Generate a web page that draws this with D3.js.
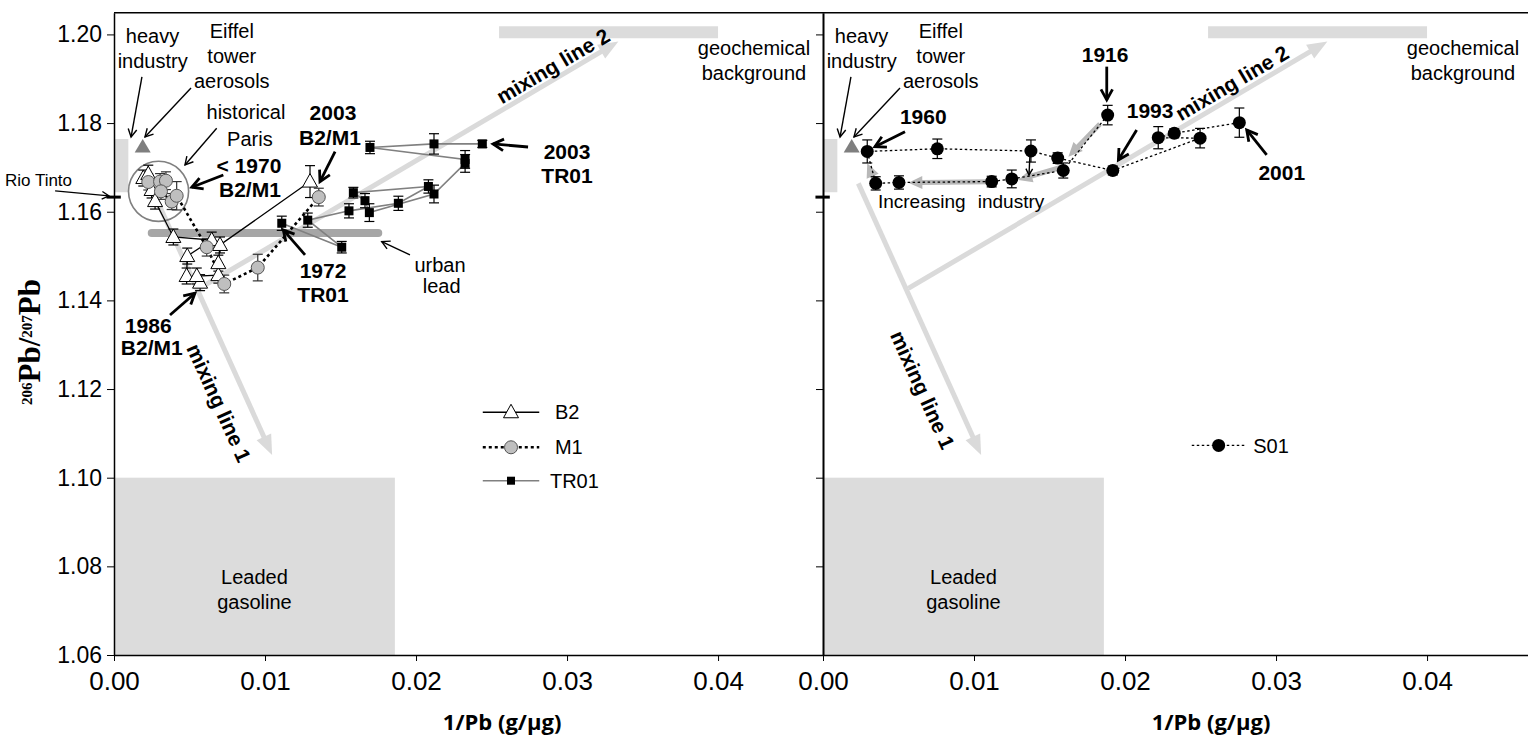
<!DOCTYPE html>
<html>
<head>
<meta charset="utf-8">
<script src="https://cdn.jsdelivr.net/npm/d3@7/dist/d3.min.js"></script>
<style>
  body { margin: 0; background: #fff; }
  svg { display: block; }
  text { font-family: "Liberation Sans", Arial, sans-serif; fill: #000; }
</style>
</head>
<body>
<div id="plot"></div>
<script>
// ---- Data (1/Pb in g/ug, 206Pb/207Pb ratio, +/- error) ----
var b2X   = [0.00194, 0.00227, 0.00249, 0.00272, 0.00393, 0.00647, 0.00485, 0.00481, 0.00570, 0.00548, 0.00691, 0.00691, 0.00702, 0.01298];
var b2Y   = [1.1676, 1.1685, 1.1649, 1.1624, 1.1543, 1.1536, 1.1500, 1.1455, 1.1440, 1.1455, 1.1457, 1.1484, 1.1525, 1.1668];
var b2Err = [0.0018, 0.0020, 0.0018, 0.0018, 0.0018, 0.0018, 0.0018, 0.0018, 0.0018, 0.0018, 0.0018, 0.0018, 0.0018, 0.0036];

var m1X   = [0.00227, 0.00305, 0.00344, 0.00311, 0.00382, 0.00415, 0.00614, 0.00730, 0.00952, 0.01356];
var m1Y   = [1.1667, 1.1668, 1.1670, 1.1646, 1.1623, 1.1636, 1.1520, 1.1437, 1.1474, 1.1633];
var m1Err = [0.0018, 0.0018, 0.0020, 0.0018, 0.0018, 0.0032, 0.0020, 0.0020, 0.0030, 0.0020];

var tr01X   = [0.01111, 0.01508, 0.01283, 0.01556, 0.01883, 0.02082, 0.01585, 0.01662, 0.01691, 0.02119, 0.02325, 0.02325, 0.01695, 0.02119, 0.02439];
var tr01Y   = [1.1574, 1.1520, 1.1581, 1.1602, 1.1619, 1.1657, 1.1643, 1.1625, 1.1598, 1.1640, 1.1709, 1.1718, 1.1745, 1.1753, 1.1753];
var tr01Err = [0.0016, 0.0013, 0.0016, 0.0016, 0.0016, 0.0015, 0.0012, 0.0016, 0.0020, 0.0020, 0.0020, 0.0020, 0.0014, 0.0023, 0.0008];

var s01X   = [0.01885, 0.01591, 0.01250, 0.01117, 0.00503, 0.00349, 0.00293, 0.00757, 0.01377, 0.01554, 0.01919, 0.02497, 0.02220, 0.02326, 0.02757];
var s01Y   = [1.1818, 1.1693, 1.1674, 1.1668, 1.1666, 1.1664, 1.1736, 1.1742, 1.1737, 1.1721, 1.1693, 1.1766, 1.1767, 1.1777, 1.1801];
var s01Err = [0.0022, 0.0017, 0.0020, 0.0012, 0.0015, 0.0015, 0.0026, 0.0022, 0.0025, 0.0012, 0.0010, 0.0022, 0.0025, 0.0010, 0.0033];

var yTicks = [1.06, 1.08, 1.10, 1.12, 1.14, 1.16, 1.18, 1.20];
var xTicks = [0.00, 0.01, 0.02, 0.03, 0.04];

// ---- Source end-members (data units) ----
var leadedBox   = [0, 0.0186, 1.06, 1.10];
var geochemBar  = [0.0255, 0.0400, 1.2005];
var rioTintoBar = [0.00007, 0.00095, 1.1644, 1.1764];
var rioTintoTick = [-0.0005, 0.00045, 1.1633];
var eiffelPoint = [0.0019, 1.1747];
var urbanLeadBar = [0.0025, 0.0175, 1.1552];
var parisCircle = [0.00295, 1.1646, 0.00199];
var mixLine1 = [0.00234, 1.1664, 0.01047, 1.1051];
var mixLine2 = [0.00565, 1.1427, 0.0334, 1.1984];

// ---- Annotations (data units) ----
var sharedLabels = [
  ["heavy", 0.00255, 1.1980], ["industry", 0.00256, 1.19244],
  ["Eiffel", 0.0078, 1.19921], ["tower", 0.0078, 1.19357], ["aerosols", 0.0078, 1.18793],
  ["geochemical", 0.04238, 1.19537], ["background", 0.04238, 1.18973],
  ["Leaded", 0.0093, 1.07602], ["gasoline", 0.0093, 1.07038]
];
var sharedArrows = [
  [0.00185, 1.19041, 0.00113, 1.17687],
  [0.0051, 1.18793, 0.00205, 1.17687]
];

var leftLabels = [
  ["historical", 0.00874, 1.18093, false], ["Paris", 0.0090, 1.17491, false],
  ["< 1970", 0.00894, 1.16868, true], ["B2/M1", 0.0090, 1.1634, true],
  ["2003", 0.0145, 1.18071, true], ["B2/M1", 0.0143, 1.17507, true],
  ["1972", 0.01384, 1.14506, true], ["TR01", 0.01384, 1.13971, true],
  ["urban", 0.02159, 1.14648, false], ["lead", 0.0217, 1.14161, false],
  ["2003", 0.0300, 1.17191, true], ["TR01", 0.0300, 1.1665, true],
  ["1986", 0.00227, 1.13262, true], ["B2/M1", 0.0025, 1.12767, true]
];
var leftThinArrows = [
  [0.0068, 1.17884, 0.0047, 1.17056],
  [0.0196, 1.15025, 0.01773, 1.15325]
];
var leftBoldArrows = [
  [0.00724, 1.1683, 0.00515, 1.16552],
  [0.01464, 1.17356, 0.01364, 1.16679],
  [0.01265, 1.15025, 0.01121, 1.15589],
  [0.02742, 1.1746, 0.0251, 1.1753],
  [0.00371, 1.13671, 0.00536, 1.14161]
];
var rioTintoLabel = ["Rio Tinto", -0.0050, 1.1658];
var rioTintoArrow = [-0.0039, 1.16469, -0.00033, 1.16356];

var rightLabels = [
  ["1960", 0.00664, 1.17981, true], ["1916", 0.01868, 1.19386, true],
  ["1993", 0.02166, 1.18109, true], ["2001", 0.03038, 1.16717, true]
];
var rightBoldArrows = [
  [0.00543, 1.17807, 0.00344, 1.17468],
  [0.01879, 1.19273, 0.01879, 1.18522],
  [0.02077, 1.17845, 0.01956, 1.17168],
  [0.02938, 1.17281, 0.02806, 1.17845]
];
var industryArrows = [
  [0.01834, 1.17981, 0.01625, 1.17243],
  [0.01591, 1.17018, 0.01293, 1.16717],
  [0.01106, 1.16679, 0.00565, 1.16656],
  [0.00344, 1.16679, 0.00293, 1.17094]
];
var industryLabels = [["Increasing", 0.00654, 1.16085], ["industry", 0.01245, 1.16085]];
var smallArrow = [0.01371, 1.17326, 0.01364, 1.1683];

var mix2Labels = [[0.02907, 1.19289], [0.02709, 1.18906]];
var mix1Labels = [[0.00695, 1.11686], [0.00659, 1.11979]];

var legendLeft = { x0: 0.02442, x1: 0.02816, xm: 0.02629, xt: 0.0292, rows: [1.11476, 1.10686, 1.09932], names: ["B2", "M1", "TR01"] };
var legendRight = { x0: 0.02442, x1: 0.02795, xm: 0.0262, xt: 0.02849, row: 1.10727, name: "S01" };

// ---- Layout ----
var W = 1528, H = 739;
var margin = {top: 12.7, left: 114};
var panelW = 709, panelH = 642.3;

var svg = d3.select("#plot").append("svg")
  .attr("width", W).attr("height", H);

var x = d3.scaleLinear().domain([0, 0.04695]).range([0, panelW]);
var y = d3.scaleLinear().domain([1.06, 1.2049]).range([panelH, 0]);

var left = svg.append("g").attr("transform", "translate(" + margin.left + "," + margin.top + ")");
var right = svg.append("g").attr("transform", "translate(" + (margin.left + panelW) + "," + margin.top + ")");

// helpers
function label(g, t, dx, dy, bold, size) {
  return g.append("text")
    .attr("x", x(dx)).attr("y", y(dy))
    .attr("text-anchor", "middle")
    .style("font-size", (size || (bold ? 21 : 20)) + "px")
    .style("font-weight", bold ? "bold" : "normal")
    .text(t);
}

function arrow(g, a, w, head) {
  var x1 = x(a[0]), y1 = y(a[1]), x2 = x(a[2]), y2 = y(a[3]);
  var ang = Math.atan2(y2 - y1, x2 - x1);
  g.append("line").attr("x1", x1).attr("y1", y1).attr("x2", x2).attr("y2", y2)
    .attr("stroke", "#000").attr("stroke-width", w);
  var p = d3.path();
  p.moveTo(x2 - head * Math.cos(ang - 0.5), y2 - head * Math.sin(ang - 0.5));
  p.lineTo(x2, y2);
  p.lineTo(x2 - head * Math.cos(ang + 0.5), y2 - head * Math.sin(ang + 0.5));
  g.append("path").attr("d", p.toString()).attr("fill", "none")
    .attr("stroke", "#000").attr("stroke-width", w);
}

function fatArrow(g, a, color, w, hl, hw) {
  var x1 = x(a[0]), y1 = y(a[1]), x2 = x(a[2]), y2 = y(a[3]);
  var len = Math.hypot(x2 - x1, y2 - y1);
  var ux = (x2 - x1) / len, uy = (y2 - y1) / len;
  var bx = x2 - ux * hl, by = y2 - uy * hl;
  g.append("line").attr("x1", x1).attr("y1", y1).attr("x2", bx + ux).attr("y2", by + uy)
    .attr("stroke", color).attr("stroke-width", w);
  var p = d3.path();
  p.moveTo(x2, y2);
  p.lineTo(bx - uy * hw / 2, by + ux * hw / 2);
  p.lineTo(bx + uy * hw / 2, by - ux * hw / 2);
  p.closePath();
  g.append("path").attr("d", p.toString()).attr("fill", color);
}

function rotLabel(g, t, pos, angle) {
  g.append("text")
    .attr("transform", "translate(" + x(pos[0]) + "," + y(pos[1]) + ") rotate(" + angle + ")")
    .attr("text-anchor", "middle").attr("dy", "0.35em")
    .style("font-size", "21px").style("font-weight", "bold")
    .text(t);
}

function errorBars(g, xs, ys, es, color) {
  var idx = d3.range(xs.length);
  var eg = g.append("g").attr("stroke", color).attr("stroke-width", 1.2);
  eg.selectAll("line.v").data(idx).enter().append("line").attr("class", "v")
    .attr("x1", function(i){ return x(xs[i]); }).attr("x2", function(i){ return x(xs[i]); })
    .attr("y1", function(i){ return y(ys[i] - es[i]); }).attr("y2", function(i){ return y(ys[i] + es[i]); });
  [-1, 1].forEach(function(s) {
    eg.selectAll("line.c" + (s + 1)).data(idx).enter().append("line").attr("class", "c" + (s + 1))
      .attr("x1", function(i){ return x(xs[i]) - 5; }).attr("x2", function(i){ return x(xs[i]) + 5; })
      .attr("y1", function(i){ return y(ys[i] + s * es[i]); }).attr("y2", function(i){ return y(ys[i] + s * es[i]); });
  });
}

function seriesLine(g, xs, ys, color, w, dash) {
  var line = d3.line().x(function(i){ return x(xs[i]); }).y(function(i){ return y(ys[i]); });
  g.append("path").datum(d3.range(xs.length)).attr("d", line)
    .attr("fill", "none").attr("stroke", color).attr("stroke-width", w)
    .attr("stroke-dasharray", dash || null);
}

var triPath = "M0,-8L7.5,5.5L-7.5,5.5Z";

function drawSources(g) {
  // leaded gasoline box
  g.append("rect")
    .attr("x", x(leadedBox[0])).attr("width", x(leadedBox[1]) - x(leadedBox[0]))
    .attr("y", y(leadedBox[3])).attr("height", y(leadedBox[2]) - y(leadedBox[3]))
    .attr("fill", "#dcdcdc");
  // geochemical background bar
  g.append("line")
    .attr("x1", x(geochemBar[0])).attr("x2", x(geochemBar[1]))
    .attr("y1", y(geochemBar[2])).attr("y2", y(geochemBar[2]))
    .attr("stroke", "#dcdcdc").attr("stroke-width", 12);
  // Rio Tinto range
  g.append("rect")
    .attr("x", x(rioTintoBar[0])).attr("width", x(rioTintoBar[1]) - x(rioTintoBar[0]))
    .attr("y", y(rioTintoBar[3])).attr("height", y(rioTintoBar[2]) - y(rioTintoBar[3]))
    .attr("fill", "#dcdcdc");
  // mixing lines
  fatArrow(g, mixLine1, "#dadada", 5, 20, 16);
  fatArrow(g, mixLine2, "#dadada", 5, 20, 16);
  // Eiffel tower aerosols
  g.append("path").attr("d", "M0,-7.5L8,6L-8,6Z")
    .attr("transform", "translate(" + x(eiffelPoint[0]) + "," + y(eiffelPoint[1]) + ")")
    .attr("fill", "#7f7f7f");
  sharedLabels.forEach(function(l){ label(g, l[0], l[1], l[2], false); });
  sharedArrows.forEach(function(a){ arrow(g, a, 1.4, 9); });
}

function drawAxes(g, withLabels) {
  var yAxis = d3.axisLeft(y).tickValues(yTicks).tickSizeInner(7).tickSizeOuter(0).tickPadding(5)
    .tickFormat(withLabels ? d3.format(".2f") : "");
  var ya = g.append("g").call(yAxis);
  ya.selectAll("text").style("font-size", "23px").style("font-family", "'Liberation Sans', Arial, sans-serif");
  ya.select(".domain").attr("stroke-width", withLabels ? 1.5 : 2);

  var xAxis = d3.axisBottom(x).tickValues(xTicks).tickSizeInner(6).tickSizeOuter(0).tickPadding(11)
    .tickFormat(d3.format(".2f"));
  var xa = g.append("g").attr("transform", "translate(0," + panelH + ")").call(xAxis);
  xa.selectAll("text").style("font-size", "26px")
    .style("font-family", "'Liberation Sans Narrow', 'Arial Narrow', 'Liberation Sans', sans-serif");
  xa.select(".domain").attr("stroke-width", 1.5);

  // Rio Tinto ratio mark on the y axis
  g.append("line")
    .attr("x1", x(rioTintoTick[0])).attr("x2", x(rioTintoTick[1]))
    .attr("y1", y(rioTintoTick[2])).attr("y2", y(rioTintoTick[2]))
    .attr("stroke", "#000").attr("stroke-width", 3);

  g.append("text")
    .attr("x", x(0.0257)).attr("y", panelH + 75)
    .attr("text-anchor", "middle")
    .style("font-family", "'Open Sans', sans-serif").style("font-weight", "bold").style("font-size", "22px")
    .text("1/Pb (g/\u03bcg)");
}

// ================= LEFT PANEL =================
drawSources(left);
left.append("line")
  .attr("x1", x(urbanLeadBar[0])).attr("x2", x(urbanLeadBar[1]))
  .attr("y1", y(urbanLeadBar[2])).attr("y2", y(urbanLeadBar[2]))
  .attr("stroke", "#a6a6a6").attr("stroke-width", 8).attr("stroke-linecap", "round");
left.append("circle")
  .attr("cx", x(parisCircle[0])).attr("cy", y(parisCircle[1]))
  .attr("r", x(parisCircle[2]) - x(0))
  .attr("fill", "none").attr("stroke", "#808080").attr("stroke-width", 1.6);

seriesLine(left, tr01X, tr01Y, "#808080", 1.6);
seriesLine(left, b2X, b2Y, "#000", 1.3);
seriesLine(left, m1X, m1Y, "#000", 2.6, "3,3");

errorBars(left, tr01X, tr01Y, tr01Err, "#000");
errorBars(left, b2X, b2Y, b2Err, "#000");
errorBars(left, m1X, m1Y, m1Err, "#333");

left.append("g").selectAll("rect").data(d3.range(tr01X.length)).enter().append("rect")
  .attr("x", function(i){ return x(tr01X[i]) - 4.5; })
  .attr("y", function(i){ return y(tr01Y[i]) - 4.5; })
  .attr("width", 9).attr("height", 9).attr("fill", "#000");
left.append("g").selectAll("path").data(d3.range(b2X.length)).enter().append("path")
  .attr("d", triPath)
  .attr("transform", function(i){ return "translate(" + x(b2X[i]) + "," + y(b2Y[i]) + ")"; })
  .attr("fill", "#fff").attr("stroke", "#000").attr("stroke-width", 1);
left.append("g").selectAll("circle").data(d3.range(m1X.length)).enter().append("circle")
  .attr("cx", function(i){ return x(m1X[i]); })
  .attr("cy", function(i){ return y(m1Y[i]); })
  .attr("r", 6.5).attr("fill", "#bfbfbf").attr("stroke", "#555").attr("stroke-width", 1);

leftLabels.forEach(function(l){ label(left, l[0], l[1], l[2], l[3]); });
leftThinArrows.forEach(function(a){ arrow(left, a, 1.4, 9); });
leftBoldArrows.forEach(function(a){ arrow(left, a, 2.8, 12); });
label(left, rioTintoLabel[0], rioTintoLabel[1], rioTintoLabel[2], false, 17);
arrow(left, rioTintoArrow, 1.3, 8);
rotLabel(left, "mixing line 2", mix2Labels[0], -30.5);
rotLabel(left, "mixing line 1", mix1Labels[0], 65.7);

// legend
var lg = left.append("g");
legendLeft.rows.forEach(function(r, k) {
  var styles = [["#000", 1.3, null], ["#000", 2.6, "3,3"], ["#808080", 1.6, null]][k];
  lg.append("line").attr("x1", x(legendLeft.x0)).attr("x2", x(legendLeft.x1))
    .attr("y1", y(r)).attr("y2", y(r))
    .attr("stroke", styles[0]).attr("stroke-width", styles[1]).attr("stroke-dasharray", styles[2]);
  if (k === 0) lg.append("path").attr("d", triPath).attr("fill", "#fff").attr("stroke", "#000")
    .attr("transform", "translate(" + x(legendLeft.xm) + "," + y(r) + ")");
  if (k === 1) lg.append("circle").attr("cx", x(legendLeft.xm)).attr("cy", y(r)).attr("r", 6.5)
    .attr("fill", "#bfbfbf").attr("stroke", "#555");
  if (k === 2) lg.append("rect").attr("x", x(legendLeft.xm) - 4).attr("y", y(r) - 4)
    .attr("width", 8).attr("height", 8).attr("fill", "#000");
  lg.append("text").attr("x", x(legendLeft.xt) - (k === 2 ? 5 : 0)).attr("y", y(r)).attr("dy", "0.36em")
    .style("font-size", "20px").text(legendLeft.names[k]);
});

drawAxes(left, true);

// y axis title
var yt = svg.append("text")
  .attr("transform", "translate(40,342) rotate(-90)")
  .attr("text-anchor", "middle")
  .style("font-family", "'Liberation Serif', 'Times New Roman', serif").style("font-weight", "bold");
yt.append("tspan").attr("baseline-shift", "super").style("font-size", "15px").text("206");
yt.append("tspan").style("font-size", "31px").text("Pb/");
yt.append("tspan").attr("baseline-shift", "super").style("font-size", "15px").text("207");
yt.append("tspan").style("font-size", "31px").text("Pb");

// ================= RIGHT PANEL =================
drawSources(right);
industryArrows.forEach(function(a){ fatArrow(right, a, "#b8b8b8", 5, 14, 13); });

seriesLine(right, s01X, s01Y, "#000", 1.3, "2.5,2.5");
errorBars(right, s01X, s01Y, s01Err, "#000");
right.append("g").selectAll("circle").data(d3.range(s01X.length)).enter().append("circle")
  .attr("cx", function(i){ return x(s01X[i]); })
  .attr("cy", function(i){ return y(s01Y[i]); })
  .attr("r", 6.5).attr("fill", "#000");

rightLabels.forEach(function(l){ label(right, l[0], l[1], l[2], l[3]); });
rightBoldArrows.forEach(function(a){ arrow(right, a, 2.8, 12); });
arrow(right, smallArrow, 1.4, 7);
industryLabels.forEach(function(l){ label(right, l[0], l[1], l[2], false, 19); });
rotLabel(right, "mixing line 2", mix2Labels[1], -30.5);
rotLabel(right, "mixing line 1", mix1Labels[1], 65.7);

right.append("line").attr("x1", x(legendRight.x0)).attr("x2", x(legendRight.x1))
  .attr("y1", y(legendRight.row)).attr("y2", y(legendRight.row))
  .attr("stroke", "#000").attr("stroke-width", 1.3).attr("stroke-dasharray", "2.5,2.5");
right.append("circle").attr("cx", x(legendRight.xm)).attr("cy", y(legendRight.row)).attr("r", 6.5).attr("fill", "#000");
right.append("text").attr("x", x(legendRight.xt)).attr("y", y(legendRight.row)).attr("dy", "0.36em")
  .style("font-size", "20px").text(legendRight.name);

drawAxes(right, false);

// top frame line across both panels
svg.append("line")
  .attr("x1", margin.left).attr("x2", W)
  .attr("y1", margin.top).attr("y2", margin.top)
  .attr("stroke", "#000").attr("stroke-width", 1.5);
</script>
</body>
</html>
